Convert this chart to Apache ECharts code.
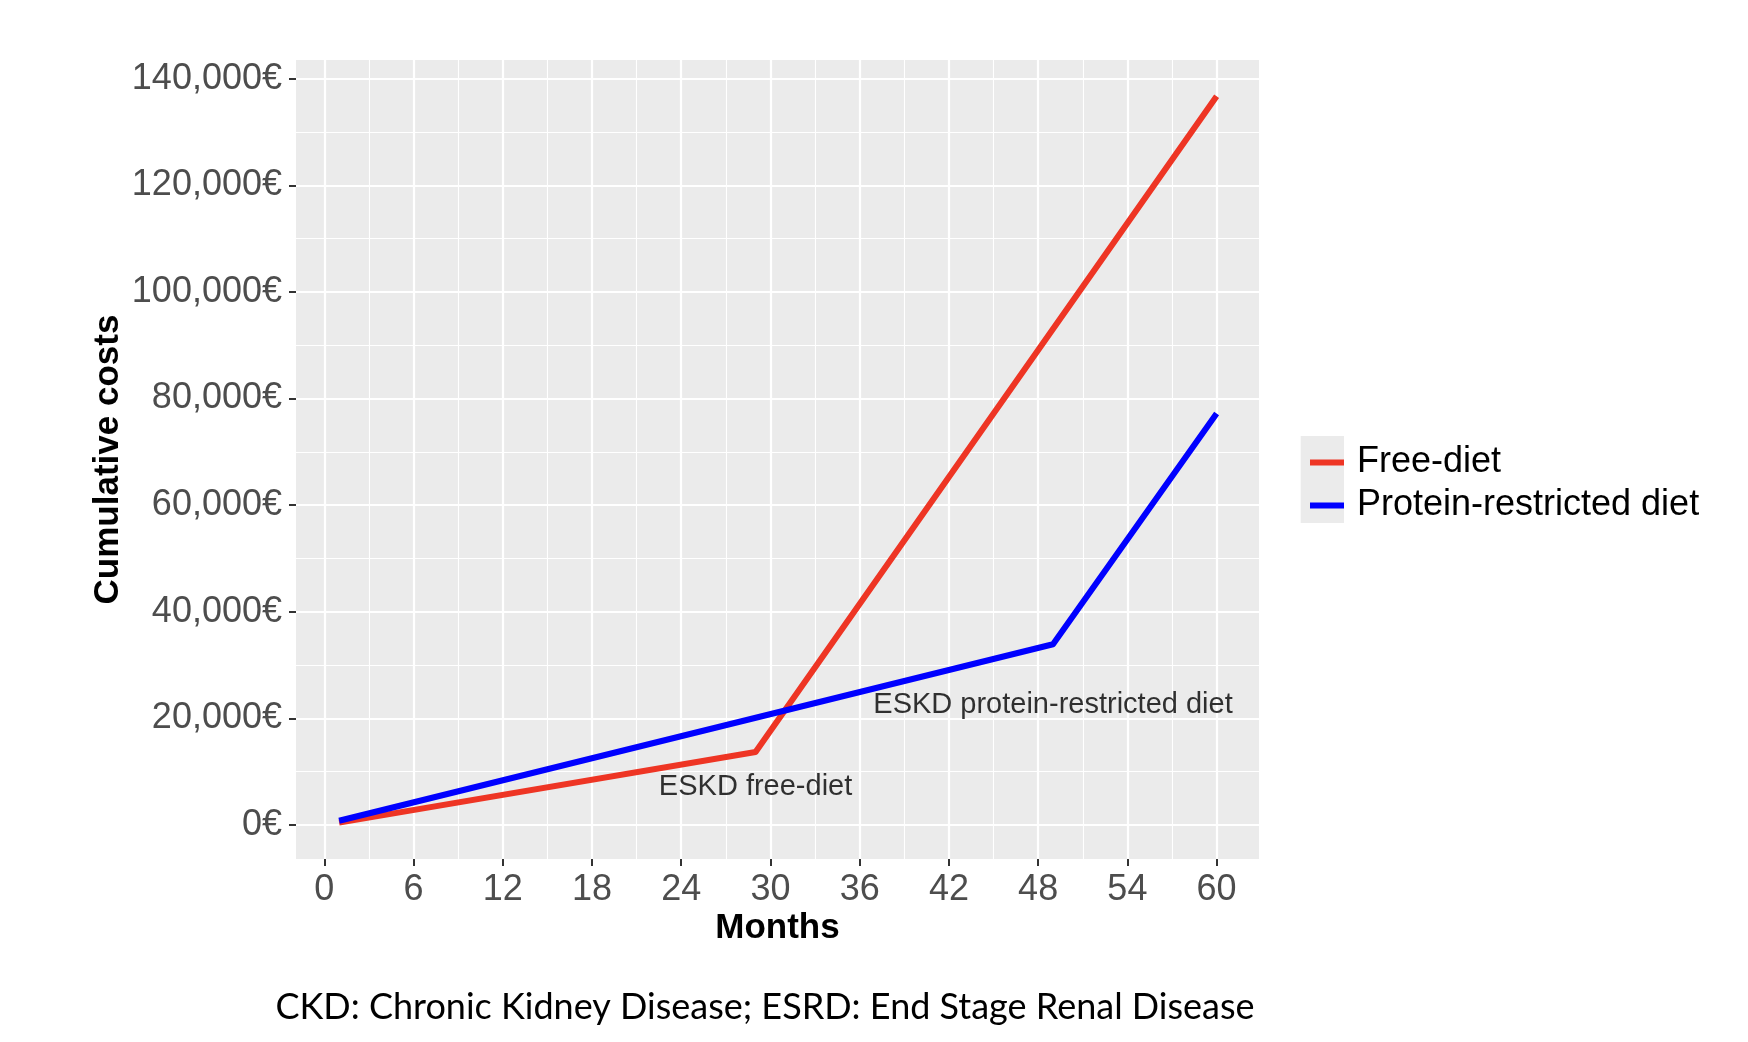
<!DOCTYPE html>
<html>
<head>
<meta charset="utf-8">
<script src="https://cdn.jsdelivr.net/npm/echarts@6/dist/echarts.min.js"></script>
<style>
html,body{margin:0;padding:0;background:#fff;}
#chart{width:1748px;height:1042px;}
</style>
</head>
<body>
<div id="chart"></div>
<script>
// ---- data ----
var freeDietMonths = [1, 29, 60];
var freeDietCosts = [450, 13700, 136700];
var proteinMonths = [1, 49, 60];
var proteinCosts = [800, 33900, 77200];
var xMajorTicks = [0, 6, 12, 18, 24, 30, 36, 42, 48, 54, 60];
var xMinorTicks = [3, 9, 15, 21, 27, 33, 39, 45, 51, 57];
var yMajorTicks = [0, 20000, 40000, 60000, 80000, 100000, 120000, 140000];
var yMinorTicks = [10000, 30000, 50000, 70000, 90000, 110000, 130000];
var seriesNames = ['Free-diet', 'Protein-restricted diet'];
var annotationTexts = ['ESKD free-diet', 'ESKD protein-restricted diet'];
var annotationPos = [[29, 7200], [49, 22500]];
var captionText = 'CKD: Chronic Kidney Disease; ESRD: End Stage Renal Disease';

function zip(xs, ys) { return xs.map(function (x, i) { return [x, ys[i]]; }); }
function euro(v) { return String(v).replace(/\B(?=(\d{3})+(?!\d))/g, ',') + '€'; }

var FONT = 'Liberation Sans';
var X_MIN = -1.9, X_MAX = 62.85, Y_MIN = -6380, Y_MAX = 143500;

var chart = echarts.init(document.getElementById('chart'));
chart.setOption({
  animation: false,
  backgroundColor: '#ffffff',
  grid: {
    left: 296, right: 489, top: 60, bottom: 183,
    show: true, backgroundColor: '#EBEBEB', borderWidth: 0
  },
  xAxis: [{
    type: 'value', min: X_MIN, max: X_MAX,
    name: 'Months', nameLocation: 'middle', nameGap: 52, nameMoveOverlap: false,
    nameTextStyle: { fontFamily: FONT, fontSize: 35, fontWeight: 'bold', color: '#000' },
    axisLine: { show: false, onZero: false },
    axisTick: { show: true, length: 7, lineStyle: { color: '#333333', width: 2 }, customValues: xMajorTicks },
    axisLabel: { show: true, margin: 13, fontFamily: FONT, fontSize: 36, color: '#4D4D4D', customValues: xMajorTicks },
    splitLine: { show: true, lineStyle: { color: '#ffffff', width: 2.2 }, customValues: xMajorTicks }
  }, {
    type: 'value', min: X_MIN, max: X_MAX, position: 'bottom',
    axisLine: { show: false, onZero: false },
    axisTick: { show: false, customValues: xMinorTicks },
    axisLabel: { show: false, customValues: xMinorTicks },
    splitLine: { show: true, lineStyle: { color: '#ffffff', width: 1.1 }, customValues: xMinorTicks }
  }],
  yAxis: [{
    type: 'value', min: Y_MIN, max: Y_MAX,
    name: 'Cumulative costs', nameLocation: 'middle', nameGap: 170, nameRotate: 90, nameMoveOverlap: false,
    nameTextStyle: { fontFamily: FONT, fontSize: 35, fontWeight: 'bold', color: '#000' },
    axisLine: { show: false, onZero: false },
    axisTick: { show: true, length: 7, lineStyle: { color: '#333333', width: 2 }, customValues: yMajorTicks },
    axisLabel: { show: true, margin: 14, fontFamily: FONT, fontSize: 36, color: '#4D4D4D', formatter: euro, customValues: yMajorTicks },
    splitLine: { show: true, lineStyle: { color: '#ffffff', width: 2.2 }, customValues: yMajorTicks }
  }, {
    type: 'value', min: Y_MIN, max: Y_MAX, position: 'left',
    axisLine: { show: false, onZero: false },
    axisTick: { show: false, customValues: yMinorTicks },
    axisLabel: { show: false, customValues: yMinorTicks },
    splitLine: { show: true, lineStyle: { color: '#ffffff', width: 1.1 }, customValues: yMinorTicks }
  }],
  legend: {
    data: seriesNames,
    orient: 'vertical', left: 1305, top: 436,
    icon: 'rect', itemWidth: 34, itemHeight: 6, itemGap: 0,
    textStyle: { fontFamily: FONT, fontSize: 36, lineHeight: 43, color: '#000', padding: [0, 0, 0, 8] },
    selectedMode: false
  },
  graphic: [{
    type: 'rect', z: 0,
    shape: { x: 1300.7, y: 436, width: 43.3, height: 87 },
    style: { fill: '#EBEBEB' }
  }, {
    type: 'text', z: 10,
    style: {
      text: captionText, x: 765, y: 1007, align: 'center', verticalAlign: 'middle',
      font: '36px Lato', fill: '#000'
    }
  }],
  series: [{
    name: seriesNames[0], type: 'line', xAxisIndex: 0, yAxisIndex: 0,
    data: zip(freeDietMonths, freeDietCosts),
    showSymbol: false, symbol: 'none', color: '#EE3524',
    lineStyle: { width: 6, color: '#EE3524', join: 'round' }, z: 3
  }, {
    name: seriesNames[1], type: 'line', xAxisIndex: 0, yAxisIndex: 0,
    data: zip(proteinMonths, proteinCosts),
    showSymbol: false, symbol: 'none', color: '#0000FF',
    lineStyle: { width: 6, color: '#0000FF', join: 'round' }, z: 3
  }, {
    name: 'annotations', type: 'scatter', xAxisIndex: 0, yAxisIndex: 0,
    symbolSize: 0, silent: true,
    data: annotationPos.map(function (p, i) { return { value: p, name: annotationTexts[i] }; }),
    label: { show: true, position: 'inside', formatter: '{b}', fontFamily: FONT, fontSize: 29, color: '#000' },
    z: 4
  }]
});
</script>
</body>
</html>
